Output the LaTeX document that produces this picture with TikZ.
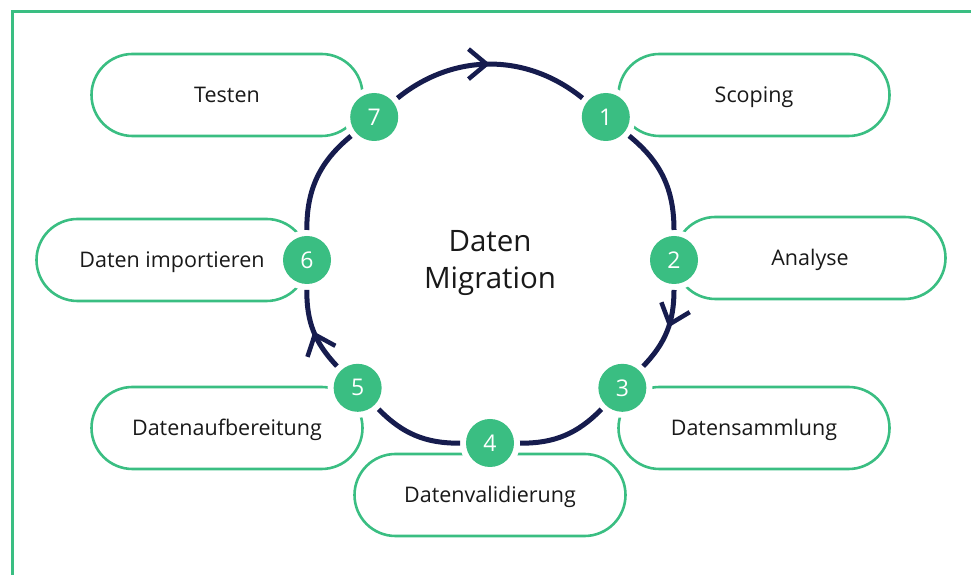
\documentclass[tikz,border=0pt]{standalone}
\usepackage{fontspec}
\setmainfont{Open Sans}
\usepackage{tikz}
\usetikzlibrary{arrows.meta,shapes.misc,decorations.markings}
\definecolor{GruenMarke}{RGB}{58,190,130}
\definecolor{BlauNacht}{RGB}{22,28,78}
\definecolor{TextDunkel}{RGB}{25,25,25}

\begin{document}
\begin{tikzpicture}[x=1pt,y=1pt,
  schritt/.style={rounded rectangle,draw=GruenMarke,line width=2.6pt,minimum width=271pt,minimum height=82pt,inner sep=0pt,text height=15.5pt,text depth=0pt,text=TextDunkel,font=\fontsize{21.5}{26}\selectfont},
  nummer/.style={circle,fill=GruenMarke,minimum size=48pt,inner sep=0pt,outer sep=6pt,text=white,font=\fontsize{23}{26}\selectfont,preaction={draw=white,line width=12pt}},
  bahn/.style={draw=BlauNacht,line width=5pt},
  spitze/.style={postaction={decorate},decoration={markings,mark=at position #1 with {\arrow{Straight Barb[length=18pt,width=30pt,line width=4.5pt]}}}}]
  \useasboundingbox (0,0) rectangle (971,575);
  \draw[GruenMarke,line width=3pt] (12,0) |- (971,563);
  \node[schritt] (s7) at (227,480) {Testen};
  \node[schritt] (s1) at (754,480) {Scoping};
  \node[schritt] (s6) at (172,315) {Daten importieren};
  \node[schritt] (s2) at (810,317) {Analyse};
  \node[schritt] (s5) at (227,147) {Datenaufbereitung};
  \node[schritt] (s3) at (754,147) {Datensammlung};
  \node[schritt] (s4) at (490,80) {Datenvalidierung};
  \coordinate (mitte) at (490,315);
  \node[TextDunkel,align=center,font=\fontsize{29.5}{37}\selectfont] (titel) at (490,312) {Daten\\Migration};
  \path (mitte) ++(51:184) node[nummer] (b1) {1};
  \path (mitte) ++(0:184) node[nummer] (b2) {2};
  \path (mitte) ++(-44:184) node[nummer] (b3) {3};
  \path (mitte) ++(-90:183) node[nummer] (b4) {4};
  \path (mitte) ++(-136:184) node[nummer] (b5) {5};
  \path (mitte) ++(180:183) node[nummer] (b6) {6};
  \path (mitte) ++(129:184) node[nummer] (b7) {7};
  \draw[bahn,spitze=0.5] (b7) to[bend left=39] (b1);
  \draw[bahn] (b1) to[bend left=25.5] (b2);
  \draw[bahn,spitze=0.45] (b2) to[bend left=22] (b3);
  \draw[bahn] (b3) to[bend left=23] (b4);
  \draw[bahn] (b4) to[bend left=23] (b5);
  \draw[bahn,spitze=0.5] (b5) to[bend left=22] (b6);
  \draw[bahn] (b6) to[bend left=25.5] (b7);
\end{tikzpicture}
\end{document}
